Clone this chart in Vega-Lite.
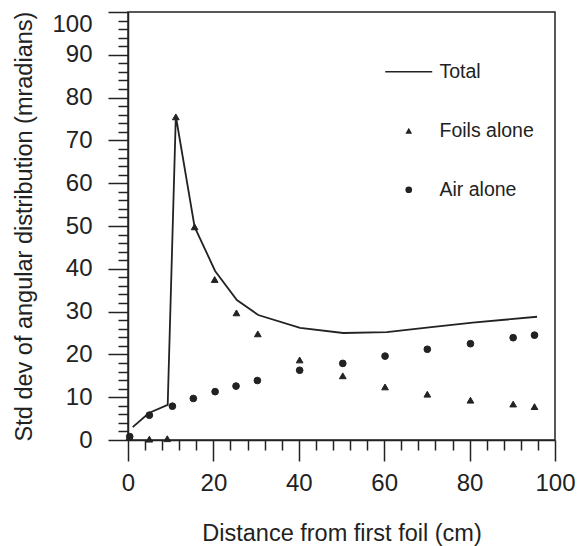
{
  "$schema": "https://vega.github.io/schema/vega-lite/v6.json",
  "width": 427,
  "height": 428,
  "autosize": {"type": "none"},
  "padding": {"left": 128, "top": 12, "right": 22, "bottom": 106},
  "background": "white",
  "config": {
    "view": {"stroke": "#222", "strokeWidth": 1.5},
    "font": "Liberation Sans"
  },
  "datasets": {
    "total": [
      {"distance": 1.1, "std": 3.0},
      {"distance": 4.9, "std": 6.3},
      {"distance": 9.3, "std": 8.2},
      {"distance": 11.2, "std": 75.7},
      {"distance": 15.6, "std": 49.8},
      {"distance": 20.4, "std": 39.5},
      {"distance": 25.5, "std": 32.7},
      {"distance": 30.5, "std": 29.2},
      {"distance": 40.3, "std": 26.2},
      {"distance": 50.4, "std": 25.0},
      {"distance": 60.6, "std": 25.2},
      {"distance": 70.5, "std": 26.3},
      {"distance": 80.7, "std": 27.4},
      {"distance": 95.8, "std": 28.8}
    ],
    "points": [
      {"distance": 0.3, "std": 0.6, "series": "Foils alone"},
      {"distance": 5.0, "std": 0.2, "series": "Foils alone"},
      {"distance": 9.2, "std": 0.3, "series": "Foils alone"},
      {"distance": 11.2, "std": 75.5, "series": "Foils alone"},
      {"distance": 15.6, "std": 49.8, "series": "Foils alone"},
      {"distance": 20.3, "std": 37.5, "series": "Foils alone"},
      {"distance": 25.4, "std": 29.7, "series": "Foils alone"},
      {"distance": 30.4, "std": 24.8, "series": "Foils alone"},
      {"distance": 40.2, "std": 18.7, "series": "Foils alone"},
      {"distance": 50.3, "std": 15.0, "series": "Foils alone"},
      {"distance": 60.2, "std": 12.4, "series": "Foils alone"},
      {"distance": 70.1, "std": 10.7, "series": "Foils alone"},
      {"distance": 80.2, "std": 9.3, "series": "Foils alone"},
      {"distance": 90.2, "std": 8.4, "series": "Foils alone"},
      {"distance": 95.2, "std": 7.8, "series": "Foils alone"},
      {"distance": 0.4, "std": 0.8, "series": "Air alone"},
      {"distance": 5.0, "std": 5.8, "series": "Air alone"},
      {"distance": 10.4, "std": 7.9, "series": "Air alone"},
      {"distance": 15.3, "std": 9.7, "series": "Air alone"},
      {"distance": 20.4, "std": 11.3, "series": "Air alone"},
      {"distance": 25.3, "std": 12.6, "series": "Air alone"},
      {"distance": 30.3, "std": 13.9, "series": "Air alone"},
      {"distance": 40.2, "std": 16.3, "series": "Air alone"},
      {"distance": 50.3, "std": 17.9, "series": "Air alone"},
      {"distance": 60.2, "std": 19.6, "series": "Air alone"},
      {"distance": 70.1, "std": 21.2, "series": "Air alone"},
      {"distance": 80.2, "std": 22.5, "series": "Air alone"},
      {"distance": 90.2, "std": 23.9, "series": "Air alone"},
      {"distance": 95.2, "std": 24.5, "series": "Air alone"}
    ]
  },
  "layer": [
    {
      "data": {"name": "total"},
      "mark": {"type": "line", "color": "#222", "strokeWidth": 1.8},
      "encoding": {
        "x": {
          "field": "distance",
          "type": "quantitative",
          "scale": {"domain": [0, 100], "nice": false},
          "axis": {
            "title": "Distance from first foil (cm)",
            "values": [0, 4, 8, 12, 16, 20, 24, 28, 32, 36, 40, 44, 48, 52, 56, 60, 64, 68, 72, 76, 80, 84, 88, 92, 96, 100],
            "tickCount": 500,
            "format": "d",
            "labelExpr": "datum.value % 20 === 0 ? datum.label : ''",
            "tickSize": {"condition": {"test": "datum.value % 20 === 0", "value": 21}, "value": 10},
            "grid": false,
            "labelFlush": false,
            "labelOverlap": false,
            "domainColor": "#222",
            "domainWidth": 1.5,
            "tickColor": "#222",
            "tickWidth": 1.5,
            "labelFont": "Liberation Sans",
            "labelFontSize": 24,
            "labelColor": "#222",
            "labelPadding": 10,
            "titleFont": "Liberation Sans",
            "titleFontSize": 23.5,
            "titleFontWeight": "normal",
            "titleColor": "#222",
            "titlePadding": 26
          }
        },
        "y": {
          "field": "std",
          "type": "quantitative",
          "scale": {"domain": [0, 100], "nice": false},
          "axis": {
            "title": "Std dev of angular distribution (mradians)",
            "values": [0, 2, 4, 6, 8, 10, 12, 14, 16, 18, 20, 22, 24, 26, 28, 30, 32, 34, 36, 38, 40, 42, 44, 46, 48, 50, 52, 54, 56, 58, 60, 62, 64, 66, 68, 70, 72, 74, 76, 78, 80, 82, 84, 86, 88, 90, 92, 94, 96, 98, 100],
            "tickCount": 500,
            "format": "d",
            "labelExpr": "datum.value % 10 === 0 ? datum.label : ''",
            "labelBaseline": {"condition": {"test": "datum.value === 100", "value": "top"}, "value": "middle"},
            "tickSize": {"condition": {"test": "datum.value % 10 === 0", "value": 20}, "value": 10},
            "grid": false,
            "labelOverlap": false,
            "labelFlush": false,
            "domainColor": "#222",
            "domainWidth": 1.5,
            "tickColor": "#222",
            "tickWidth": 1.5,
            "labelFont": "Liberation Sans",
            "labelFontSize": 24,
            "labelColor": "#222",
            "labelPadding": 16,
            "titleFont": "Liberation Sans",
            "titleFontSize": 23.5,
            "titleFontWeight": "normal",
            "titleColor": "#222",
            "titlePadding": 15
          }
        }
      }
    },
    {
      "data": {"name": "points"},
      "mark": {"type": "point", "filled": true, "fill": "#222", "stroke": "#222", "strokeWidth": 1, "opacity": 1, "size": 45},
      "encoding": {
        "x": {"field": "distance", "type": "quantitative"},
        "y": {"field": "std", "type": "quantitative"},
        "shape": {
          "field": "series",
          "type": "nominal",
          "scale": {"domain": ["Total", "Foils alone", "Air alone"], "range": ["M-7,-0.25L7,-0.25L7,0.25L-7,0.25Z", "triangle-up", "circle"]},
          "legend": {
            "orient": "none",
            "legendX": 271,
            "legendY": 50,
            "title": null,
            "labelFont": "Liberation Sans",
            "labelFontSize": 19.5,
            "labelColor": "#222",
            "labelOffset": 21,
            "rowPadding": 38,
            "symbolSize": 45,
            "symbolStrokeColor": "#222",
            "symbolFillColor": "#222",
            "symbolStrokeWidth": 1
          }
        }
      }
    }
  ]
}
